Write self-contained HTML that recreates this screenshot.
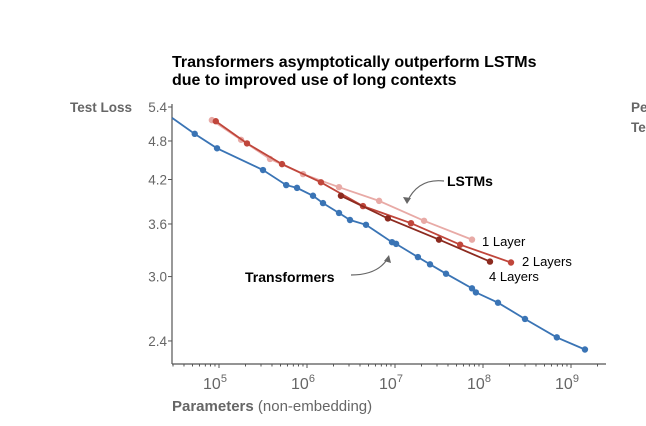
<!DOCTYPE html>
<html><head><meta charset="utf-8">
<style>
body{margin:0;background:#fff;width:646px;height:426px;overflow:hidden;font-family:"Liberation Sans",sans-serif;}
svg{display:block}
</style></head>
<body>
<svg id="chart" width="646" height="426">
  <text x="172" y="67" font-size="16" font-weight="bold" fill="#000">Transformers asymptotically outperform LSTMs</text>
  <text x="172" y="85" font-size="16" font-weight="bold" fill="#000">due to improved use of long contexts</text>
  <text x="70" y="112" font-size="13.5" font-weight="bold" fill="#666">Test Loss</text>
  <text x="631" y="112" font-size="13.5" font-weight="bold" fill="#666">Pe</text>
  <text x="631" y="132" font-size="13.5" font-weight="bold" fill="#666">Te</text>
  <text x="172" y="411" font-size="15" fill="#666"><tspan font-weight="bold">Parameters</tspan> (non-embedding)</text>
  <g id="axes"></g>
  <g id="series"></g>
  <text x="447" y="186" font-size="14" font-weight="bold" fill="#000">LSTMs</text>
  <path d="M444,181 Q418,178 407,202" fill="none" stroke="#666" stroke-width="1.2"/>
  <path d="M403,197 L407,204 L411,198 Z" fill="#666"/>
  <text x="245" y="282" font-size="14" font-weight="bold" fill="#000">Transformers</text>
  <path d="M351,275 Q378,275 388,258" fill="none" stroke="#666" stroke-width="1.2"/>
  <path d="M384,261 L389,255 L391,263 Z" fill="#666"/>
  <text x="482" y="246" font-size="13" fill="#000">1 Layer</text>
  <text x="522" y="266" font-size="13" fill="#000">2 Layers</text>
  <text x="489" y="281" font-size="13" fill="#000">4 Layers</text>
</svg>
<script>
const transParams=[2.93e4,5.3e4,9.5e4,3.16e5,5.8e5,7.7e5,1.17e6,1.52e6,2.31e6,3.08e6,4.68e6,9.25e6,1.03e7,1.82e7,2.5e7,3.8e7,7.5e7,8.3e7,1.48e8,3.0e8,6.9e8,1.44e9];
const transLoss=[5.20,4.92,4.68,4.34,4.12,4.08,3.97,3.87,3.74,3.65,3.59,3.38,3.36,3.21,3.13,3.03,2.88,2.84,2.74,2.59,2.43,2.33];
const lstm1Params=[8.3e4,1.78e5,3.8e5,9.0e5,2.31e6,6.6e6,2.14e7,7.5e7];
const lstm1Loss=[5.16,4.82,4.51,4.28,4.09,3.90,3.64,3.41];
const lstm2Params=[9.2e4,2.08e5,5.2e5,1.44e6,4.33e6,1.52e7,5.5e7,2.08e8];
const lstm2Loss=[5.14,4.76,4.43,4.16,3.83,3.61,3.35,3.15];
const lstm4Params=[2.43e6,8.3e6,3.16e7,1.2e8];
const lstm4Loss=[3.97,3.67,3.41,3.16];
const yTicks=[5.4,4.8,4.2,3.6,3.0,2.4];
const xTickExps=[5,6,7,8,9];

const NS="http://www.w3.org/2000/svg";
const X0=172,X1=606,Y0=104,Y1=364;
function xs(v){return 219+(Math.log10(v)-5)*88;}
function ys(v){return 107+(Math.log(5.4)-Math.log(v))*288.5;}
function mk(tag,attrs,parent){const e=document.createElementNS(NS,tag);for(const k in attrs)e.setAttribute(k,attrs[k]);parent.appendChild(e);return e;}
const axes=document.getElementById('axes');
let a=mk('line',{x1:X0,y1:Y0,x2:X0,y2:Y1,stroke:'#555','stroke-width':1.2},axes);


a=mk('line',{x1:X0,y1:Y1,x2:X1,y2:Y1,stroke:'#555','stroke-width':1.2},axes);


yTicks.forEach(t=>{
  const y=ys(t);
  mk('line',{x1:X0-4,y1:y,x2:X0,y2:y,stroke:'#555'},axes);
  const tx=mk('text',{x:X0-5,y:y+5,'font-size':13.5,fill:'#666','text-anchor':'end'},axes);
  tx.textContent=t.toFixed(1);
  
  
});
for(let e=4;e<=9;e++){for(let m=1;m<10;m++){const v=m*Math.pow(10,e);const x=xs(v);if(x<X0||x>X1)continue;
  mk('line',{x1:x,y1:Y1,x2:x,y2:Y1+(m===1?4:2.5),stroke:'#555'},axes);}}
xTickExps.forEach(e=>{
  const x=xs(Math.pow(10,e));
  const tx=mk('text',{x:x-4,y:389,'font-size':16,fill:'#666','text-anchor':'middle'},axes);
  tx.textContent='10';
  const sp=mk('tspan',{'font-size':11,dy:-7},tx);sp.textContent=String(e);
  
  
});
const series=document.getElementById('series');
function drawSeries(px,ly,color,name,skipFirstDot){
  const pts=px.map((p,i)=>xs(p).toFixed(1)+','+ys(ly[i]).toFixed(1)).join(' ');
  const pl=mk('polyline',{points:pts,fill:'none',stroke:color,'stroke-width':1.8},series);
  
  
  px.forEach((p,i)=>{if(skipFirstDot&&i===0)return;
    const c=mk('circle',{cx:xs(p),cy:ys(ly[i]),r:3.2,fill:color},series);
    
    
  });
}
drawSeries(lstm1Params,lstm1Loss,'#e8aaa6','lstm-1-layer',false);
drawSeries(lstm2Params,lstm2Loss,'#c0463b','lstm-2-layers',false);
drawSeries(lstm4Params,lstm4Loss,'#8c2a1f','lstm-4-layers',false);
drawSeries(transParams,transLoss,'#3a74b5','transformers',true);
</script>
</body></html>
